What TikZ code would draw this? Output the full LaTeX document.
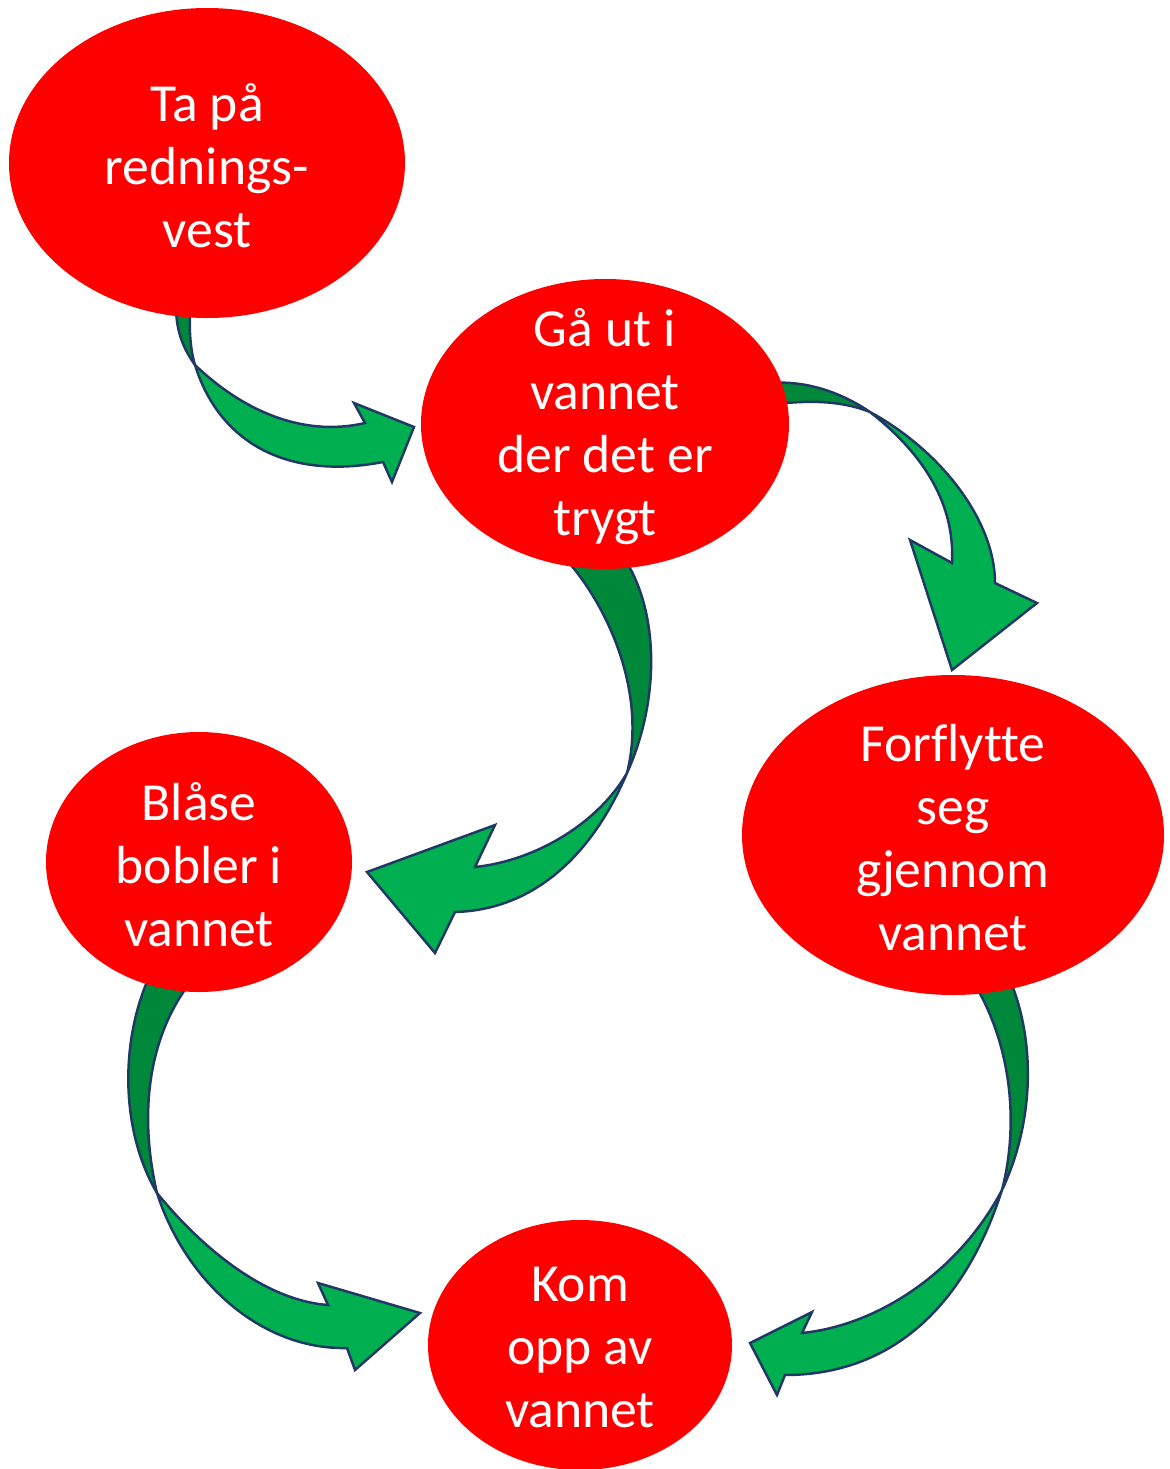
\documentclass[tikz,border=0pt]{standalone}
\usepackage{fontspec}
\setmainfont[Ligatures={NoCommon}]{Carlito}
\usetikzlibrary{shapes.geometric}
\definecolor{bubblered}{HTML}{FF0000}
\definecolor{arrowgreen}{HTML}{00B050}
\definecolor{arrowdark}{HTML}{00883A}
\definecolor{arrowline}{HTML}{1F3864}
\tikzset{
  blob/.style={ellipse,fill=bubblered,inner sep=0pt},
  blobtext/.style={text=white,align=center,font=\fontsize{30.5}{36}\selectfont,yshift=-1.5pt},
  backpart/.style={fill=arrowdark,draw=arrowline,line width=1.4pt,line join=round},
  frontpart/.style={fill=arrowgreen,draw=arrowline,line width=1.4pt,line join=miter},
}
\begin{document}
\begin{tikzpicture}[x=0.2mm,y=-0.2mm]
\useasboundingbox (0,0) rectangle (1170,1469);
% arrow: vest -> ut i vannet
\draw[backpart] (176,300) .. controls (175,330) and (183,348) .. (195,365)
  .. controls (189,345) and (189,320) .. (191,300) -- cycle;
\draw[frontpart] (195,365) .. controls (220,445) and (290,480) .. (383,462)
  -- (392,482) -- (414,427) -- (354,403) -- (365,423)
  .. controls (300,438) and (240,408) .. (195,365) -- cycle;
% arrow: ut i vannet -> forflytte
\draw[backpart] (770,383) .. controls (810,380) and (845,395) .. (870,412)
  .. controls (840,400) and (805,400) .. (770,405) -- cycle;
\draw[frontpart] (870,412) .. controls (940,450) and (995,520) .. (995,583)
  -- (1037,603) -- (952,670) -- (910,540) -- (952,563)
  .. controls (955,505) and (925,455) .. (870,412) -- cycle;
% arrow: ut i vannet -> blaase bobler
\draw[backpart] (562,555) .. controls (605,600) and (648,690) .. (627,773)
  .. controls (660,700) and (660,610) .. (622,555) -- cycle;
\draw[frontpart] (627,773) .. controls (590,860) and (530,910) .. (455,912)
  -- (435,953) -- (367,872) -- (495,825) -- (475,867)
  .. controls (540,860) and (600,820) .. (627,773) -- cycle;
% arrow: blaase bobler -> kom opp
\draw[backpart] (150,975) .. controls (120,1040) and (120,1130) .. (157,1193)
  .. controls (140,1120) and (145,1040) .. (192,980) -- cycle;
\draw[frontpart] (157,1193) .. controls (185,1280) and (260,1350) .. (347,1348)
  -- (355,1370) -- (420,1313) -- (318,1283) -- (328,1305)
  .. controls (260,1300) and (195,1240) .. (157,1193) -- cycle;
% arrow: forflytte -> kom opp
\draw[backpart] (972,980) .. controls (1010,1040) and (1020,1120) .. (1002,1190)
  .. controls (1035,1120) and (1035,1040) .. (1010,980) -- cycle;
\draw[frontpart] (1002,1190) .. controls (960,1320) and (880,1375) .. (785,1375)
  -- (777,1395) -- (750,1343) -- (812,1312) -- (802,1333)
  .. controls (880,1325) and (960,1270) .. (1002,1190) -- cycle;
% the five steps
\node[blob,minimum width=79.2mm,minimum height=62mm] (vest) at (207,163) {};
\node[blob,minimum width=73.6mm,minimum height=58mm] (utivannet) at (605,424) {};
\node[blob,minimum width=84.4mm,minimum height=64mm] (forflytte) at (953,835) {};
\node[blob,minimum width=61.2mm,minimum height=52mm] (bobler) at (199,862) {};
\node[blob,minimum width=60.8mm,minimum height=50mm] (komopp) at (580,1345) {};
\node[blobtext] at (vest.center) {Ta på\\rednings-\\vest};
\node[blobtext] at (utivannet.center) {Gå ut i\\vannet\\der det er\\trygt};
\node[blobtext] at (forflytte.center) {Forflytte\\seg\\gjennom\\vannet};
\node[blobtext] at (bobler.center) {Blåse\\bobler i\\vannet};
\node[blobtext] at (komopp.center) {Kom\\opp av\\vannet};
\end{tikzpicture}
\end{document}
